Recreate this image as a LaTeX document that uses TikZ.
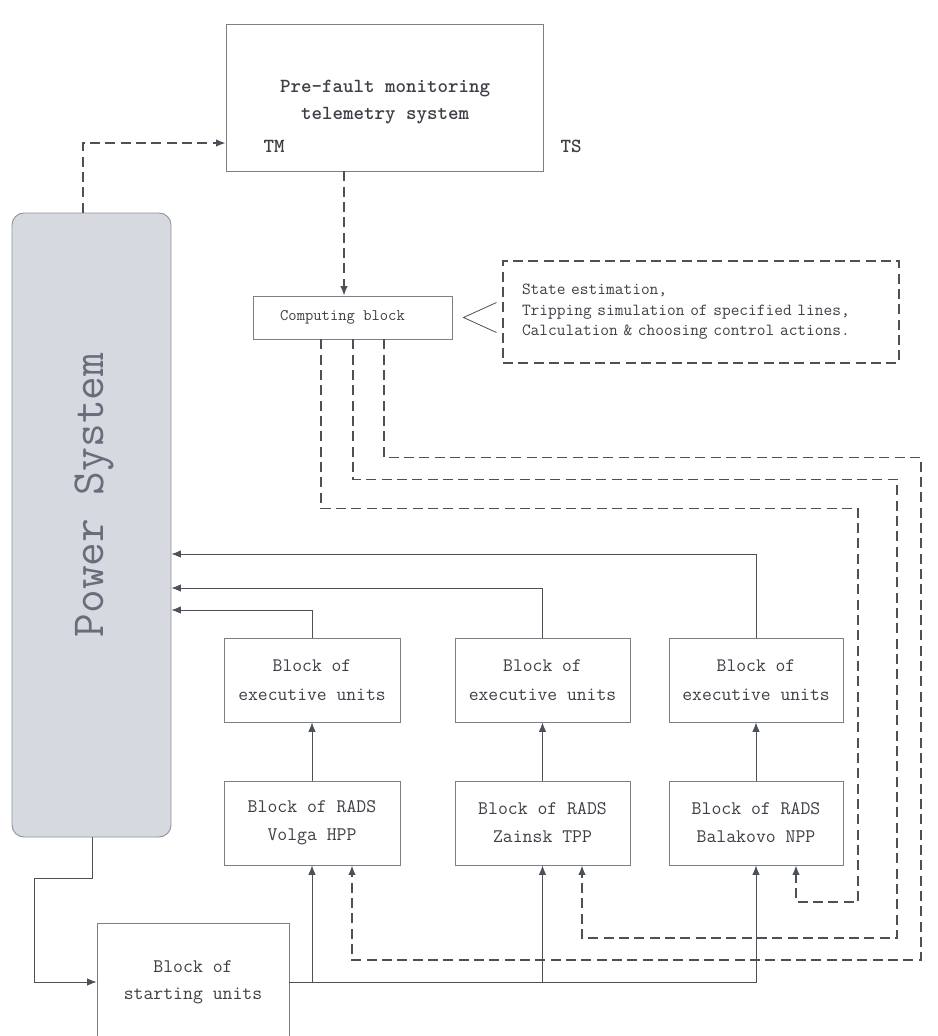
\documentclass[tikz,border=0pt]{standalone}
\usetikzlibrary{arrows.meta,calc}
\definecolor{linec}{HTML}{4C5059}
\definecolor{boxc}{HTML}{7A7F88}
\definecolor{txt}{HTML}{3C3F45}
\definecolor{psfill}{HTML}{D6D9DF}
\definecolor{psdraw}{HTML}{8F949F}
\definecolor{pstxt}{HTML}{686D7C}
\newcommand\myfs[2]{\fontsize{#1}{#2}\selectfont}
\begin{document}
\begin{tikzpicture}[x=0.75pt,y=-0.75pt,
  box/.style={draw=boxc, line width=0.7pt, fill=white, inner sep=0pt, align=center, text=txt, font=\ttfamily},
  dsh/.style={draw=linec, line width=1pt, dash pattern=on 7.5pt off 4pt},
  thinl/.style={draw=linec, line width=0.6pt},
  arr/.style={-{Latex[length=7pt,width=5.5pt]}},
  lbl/.style={inner sep=0pt, text=txt, font=\ttfamily\bfseries\myfs{15}{20}}]
\fill[white] (0,0) rectangle (938,1036);
\useasboundingbox (0,0) rectangle (938,1036);

% nodes
\node[box, minimum width=237.75pt, minimum height=110.25pt] (top) at (384.5,97.5) {};
\node[lbl, align=center, font=\ttfamily\bfseries\myfs{15}{20.25}] (title) at (385,102) {Pre-fault monitoring\\ telemetry system};
\node[lbl] (tm) at (274,146) {TM};
\node[lbl] (ts) at (571,146) {TS};

\node[box, minimum width=149.25pt, minimum height=32.25pt, font=\ttfamily\myfs{12.1}{15}] (comp) at (352.5,317.5) {Computing block\hspace{15pt}};

\node[box, draw=linec, line width=1pt, dash pattern=on 7.5pt off 4pt, minimum height=76.5pt, text width=268.5pt, inner xsep=14.25pt, align=left, font=\ttfamily\myfs{12.7}{15.4}] (note) at (701,312) {State estimation,\\Tripping simulation of specified lines,\\Calculation \& choosing control actions.};

\node[draw=psdraw, fill=psfill, line width=0.7pt, rounded corners=9pt, minimum width=119.25pt, minimum height=468pt, inner sep=0pt] (ps) at (91.5,525) {};
\node[rotate=90, inner sep=0pt, text=pstxt, font=\ttfamily\myfs{34.5}{38}] (pslabel) at (94,495) {Power System};

\node[box, minimum width=132pt, minimum height=63pt, font=\ttfamily\myfs{14.3}{21.75}] (ex1) at (312,680) {Block of\\executive units};
\node[box, minimum width=131.25pt, minimum height=63pt, font=\ttfamily\myfs{14.3}{21.75}] (ex2) at (542.5,680) {Block of\\executive units};
\node[box, minimum width=130.5pt, minimum height=63pt, font=\ttfamily\myfs{14.3}{21.75}] (ex3) at (756,680) {Block of\\executive units};

\node[box, minimum width=132pt, minimum height=63pt, font=\ttfamily\myfs{14.4}{21}] (rd1) at (312,823) {Block of RADS\\Volga HPP};
\node[box, minimum width=131.25pt, minimum height=63pt, font=\ttfamily\myfs{14.4}{21}] (rd2) at (542.5,823) {Block of RADS\\Zainsk TPP};
\node[box, minimum width=130.5pt, minimum height=63pt, font=\ttfamily\myfs{14.4}{21}] (rd3) at (756,823) {Block of RADS\\Balakovo NPP};

\node[box, minimum width=144pt, minimum height=88.5pt, font=\ttfamily\myfs{14.4}{20.25}] (st) at (193,982) {Block of\\starting units};

% connectors
\draw[dsh,arr] ($(ps.north)+(-8.5,0)$) |- ($(top.west)+(0,45.5)$);
\draw[dsh,arr] ($(top.south)+(-40.5,0)$) -- ($(comp.north)+(-8.5,0)$);
\draw[linec, line width=0.6pt] ($(comp.east)+(44,-15)$) -- ($(comp.east)+(11,0)$) -- ($(comp.east)+(44,15)$);

\draw[dsh,arr] ($(comp.south)+(-31.5,0)$) -- ++(0,169) -| (858,902) -| ($(rd3.south)+(40,0)$);
\draw[dsh,arr] ($(comp.south)+(0.5,0)$) -- ++(0,140) -| (897,938) -| ($(rd2.south)+(39.5,0)$);
\draw[dsh,arr] ($(comp.south)+(31.5,0)$) -- ++(0,118) -| (921,960) -| ($(rd1.south)+(40,0)$);

\draw[thinl,arr] (ex1.north) |- ($(ps.east)+(0,85)$);
\draw[thinl,arr] (ex2.north) |- ($(ps.east)+(0,63)$);
\draw[thinl,arr] (ex3.north) |- ($(ps.east)+(0,29)$);

\draw[thinl,arr] (rd1.north) -- (ex1.south);
\draw[thinl,arr] (rd2.north) -- (ex2.south);
\draw[thinl,arr] (rd3.north) -- (ex3.south);

\draw[thinl,arr] ($(ps.south)+(0.5,0)$) |- (34,878) |- (st.west);
\draw[thinl,arr] (st.east) -| (rd3.south);
\draw[thinl,arr] (st.east -| rd1.south) -- (rd1.south);
\draw[thinl,arr] (st.east -| rd2.south) -- (rd2.south);
\end{tikzpicture}
\end{document}
